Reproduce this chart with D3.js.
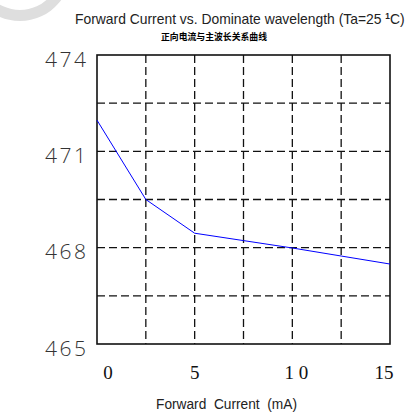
<!DOCTYPE html>
<html><head><meta charset="utf-8">
<script src="https://cdn.jsdelivr.net/npm/d3@7"></script>
<style>
html,body{margin:0;padding:0;background:#fff;}
svg{display:block;}
</style></head>
<body>
<svg id="chart" width="417" height="412"></svg>
<script>
const currents = [0, 2.5, 5, 7.5, 10, 12.5, 15];
const wavelengths = [471.97, 469.5, 468.45, 468.22, 467.99, 467.74, 467.49];
const xTicks = [0, 5, 10, 15];
const xTickLabels = ["0", "5", "1 0", "15"];
const yTicks = [465, 468, 471, 474];
const xGrid = [2.5, 5, 7.5, 10, 12.5];
const yGrid = [466.5, 468, 469.5, 471, 472.5];
const titleText = "Forward Current vs. Dominate wavelength (Ta=25 ";
const subtitleText = "正向电流与主波长关系曲线";
const xTitle = "Forward  Current  (mA)";

const svg = d3.select("#chart");
const x = d3.scaleLinear().domain([0, 15]).range([97, 390]);
const y = d3.scaleLinear().domain([465, 474]).range([344, 55]);

// watermark arc
svg.append("path")
  .attr("d", d3.arc().innerRadius(40).outerRadius(51).startAngle(Math.PI * 0.45).endAngle(Math.PI * 1.55)())
  .attr("transform", "translate(20,-30)")
  .attr("fill", "#dedede");

// grid
svg.append("g").selectAll("line").data(xGrid).join("line")
  .attr("x1", d => x(d)).attr("x2", d => x(d))
  .attr("y1", y(474)).attr("y2", y(465))
  .attr("stroke", "#111").attr("stroke-width", 1.3).attr("stroke-dasharray", "8,4");
svg.append("g").selectAll("line").data(yGrid).join("line")
  .attr("y1", d => y(d)).attr("y2", d => y(d))
  .attr("x1", x(0)).attr("x2", x(15))
  .attr("stroke", "#111").attr("stroke-width", 1.3).attr("stroke-dasharray", "8,4");

// frame
svg.append("rect")
  .attr("x", x(0)).attr("y", y(474))
  .attr("width", x(15) - x(0)).attr("height", y(465) - y(474))
  .attr("fill", "none").attr("stroke", "#111").attr("stroke-width", 1.6);

// line
svg.append("path")
  .datum(currents.map((c, i) => [c, wavelengths[i]]))
  .attr("d", d3.line().x(d => x(d[0])).y(d => y(d[1])))
  .attr("fill", "none").attr("stroke", "#0000ff").attr("stroke-width", 1);

// y labels
svg.append("g").selectAll("text").data(yTicks).join("text")
  .attr("x", 86).attr("y", d => y(d) + 11.5)
  .attr("text-anchor", "end")
  .attr("font-family", "'Open Sans'").attr("font-weight", 300)
  .attr("font-size", 21).attr("fill", "#333")
  .attr("textLength", 41).attr("lengthAdjust", "spacing")
  .text(d => d);

// x labels
const xNudge = [11, 0, 4, -6];
svg.append("g").selectAll("text").data(xTicks).join("text")
  .attr("x", (d, i) => x(d) + xNudge[i]).attr("y", 379)
  .attr("text-anchor", "middle")
  .attr("font-family", "Liberation Serif").attr("font-size", 19).attr("fill", "#111")
  .attr("xml:space", "preserve")
  .text((d, i) => xTickLabels[i]);

// x title
svg.append("text")
  .attr("x", 156).attr("y", 409)
  .attr("font-family", "'Liberation Sans',sans-serif")
  .attr("font-size", 15.5).attr("fill", "#222")
  .attr("xml:space", "preserve")
  .attr("textLength", 141).attr("lengthAdjust", "spacingAndGlyphs")
  .text(xTitle);

// title (single text element, horizontally condensed to fit)
const t = svg.append("text")
  .attr("x", 0).attr("y", 0)
  .attr("font-family", "'Liberation Sans',sans-serif")
  .attr("font-size", 15).attr("fill", "#222")
  .attr("xml:space", "preserve");
t.append("tspan").text(titleText);
t.append("tspan").attr("dy", -5).attr("font-size", 9).attr("font-weight", "bold").text("1");
t.append("tspan").attr("dy", 5).text("C)");
const tw = t.node().getComputedTextLength();
t.attr("transform", `translate(75,24) scale(${330 / tw},1)`);

svg.append("text")
  .attr("x", 161).attr("y", 40)
  .attr("font-family", "'Noto Sans CJK SC'").attr("font-weight", "bold")
  .attr("font-size", 9.5).attr("fill", "#000")
  .attr("textLength", 106).attr("lengthAdjust", "spacingAndGlyphs")
  .text(subtitleText);
</script>
</body></html>
